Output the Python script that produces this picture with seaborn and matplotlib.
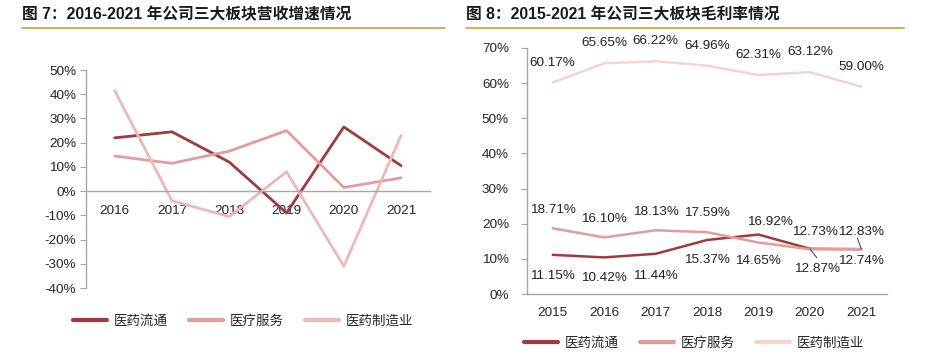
import numpy as np
import pandas as pd
import seaborn as sns
import matplotlib.pyplot as plt
from matplotlib.lines import Line2D
from matplotlib.ticker import PercentFormatter

sns.set_style('white')
plt.rcParams['font.family'] = ['Liberation Sans', 'Noto Sans CJK SC', 'DejaVu Sans']
plt.rcParams['axes.unicode_minus'] = False

# ---- data ----
series = ['医药流通', '医疗服务', '医药制造业']

growth_years = ['2016', '2017', '2018', '2019', '2020', '2021']
growth_liutong = [22.0, 24.5, 12.0, -9.0, 26.5, 10.5]
growth_fuwu = [14.5, 11.5, 16.5, 25.0, 1.5, 5.5]
growth_zhizao = [41.5, -4.0, -10.5, 8.0, -31.0, 23.0]

margin_years = ['2015', '2016', '2017', '2018', '2019', '2020', '2021']
margin_liutong = [11.15, 10.42, 11.44, 15.37, 16.92, 12.87, 12.74]
margin_fuwu = [18.71, 16.10, 18.13, 17.59, 14.65, 12.73, 12.83]
margin_zhizao = [60.17, 65.65, 66.22, 64.96, 62.31, 63.12, 59.00]

# ---- styles ----
colors_left = ['#A03A3C', '#E39C9C', '#EDB8B8']
colors_right = ['#A03A3C', '#E39C9C', '#F4D3D3']
grey = '#A6A6A6'
fs = 9.7

growth = pd.DataFrame({
    'year': growth_years * 3,
    'value': growth_liutong + growth_fuwu + growth_zhizao,
    'series': np.repeat(series, len(growth_years)),
})
margin = pd.DataFrame({
    'year': margin_years * 3,
    'value': margin_liutong + margin_fuwu + margin_zhizao,
    'series': np.repeat(series, len(margin_years)),
})

fig = plt.figure(figsize=(9.29, 3.55), dpi=100)
ax1 = fig.add_axes([0.0926, 0.1887, 0.370, 0.614])
ax2 = fig.add_axes([0.5673, 0.1718, 0.3875, 0.693])

# ---- left chart ----
sns.lineplot(data=growth, x='year', y='value', hue='series', hue_order=series,
             palette=colors_left, linewidth=2.0, sort=False, ax=ax1)
ax1.set_xlim(-0.5, 5.5)
ax1.set_ylim(-40, 50)
ax1.set_yticks(range(-40, 51, 10))
ax1.yaxis.set_major_formatter(PercentFormatter(decimals=0))
ax1.spines['bottom'].set_position(('data', 0))
for s in ['top', 'right']:
    ax1.spines[s].set_visible(False)
for s in ['left', 'bottom']:
    ax1.spines[s].set_color(grey)
    ax1.spines[s].set_linewidth(1.0)
ax1.tick_params(axis='y', left=True, length=4, color=grey, labelsize=fs, pad=3)
ax1.tick_params(axis='x', bottom=False, length=0, labelsize=fs, pad=10)
ax1.set_xlabel('')
ax1.set_ylabel('')
ax1.legend(loc='center', bbox_to_anchor=(0.262, 0.096), bbox_transform=fig.transFigure,
           ncol=3, frameon=False, handlelength=2.5, columnspacing=1.6,
           handletextpad=0.5, prop={'family': ['Noto Sans CJK SC'], 'size': fs})
for line in ax1.get_legend().get_lines():
    line.set_linewidth(3.0)

# ---- right chart ----
sns.lineplot(data=margin, x='year', y='value', hue='series', hue_order=series,
             palette=colors_right, linewidth=1.8, sort=False, ax=ax2)
ax2.set_xlim(-0.5, 6.5)
ax2.set_ylim(0, 70)
ax2.set_yticks(range(0, 71, 10))
ax2.yaxis.set_major_formatter(PercentFormatter(decimals=0))
for s in ['top', 'right']:
    ax2.spines[s].set_visible(False)
for s in ['left', 'bottom']:
    ax2.spines[s].set_color(grey)
    ax2.spines[s].set_linewidth(1.0)
ax2.tick_params(axis='y', left=True, length=4, color=grey, labelsize=fs, pad=9)
ax2.tick_params(axis='x', bottom=False, length=0, labelsize=fs, pad=9)
ax2.set_xlabel('')
ax2.set_ylabel('')
ax2.legend(loc='center', bbox_to_anchor=(0.747, 0.034), bbox_transform=fig.transFigure,
           ncol=3, frameon=False, handlelength=2.5, columnspacing=1.6,
           handletextpad=0.5, prop={'family': ['Noto Sans CJK SC'], 'size': fs})
for line in ax2.get_legend().get_lines():
    line.set_linewidth(3.0)

# data labels: offsets in pixels
off_zhizao = [(0, 20)] * 7
off_fuwu = [(0, 18), (0, 18), (0, 18), (0, 19), (0, -18), (5, 17), (0, 17)]
off_liutong = [(0, -21), (0, -21), (0, -22), (0, -20), (12, 13), (7, -20), (0, -12)]
for vals, offs in [(margin_zhizao, off_zhizao), (margin_fuwu, off_fuwu),
                   (margin_liutong, off_liutong)]:
    for i, (v, (dx, dy)) in enumerate(zip(vals, offs)):
        ax2.annotate(f'{v:.2f}%', (i, v), xytext=(dx, dy), textcoords='offset pixels',
                     ha='center', va='center', fontsize=fs, color='#222222')

# leader lines for crowded labels
ax2.annotate('', (5, margin_liutong[5]), xytext=(7, -9), textcoords='offset pixels',
             arrowprops=dict(arrowstyle='-', color='#555555', lw=0.8, shrinkA=0, shrinkB=0))
ax2.annotate('', (6, margin_fuwu[6]), xytext=(-4, 11), textcoords='offset pixels',
             arrowprops=dict(arrowstyle='-', color='#555555', lw=0.8, shrinkA=0, shrinkB=0))

# ---- titles ----
fig.text(22 / 929, 1 - 15 / 355, '图 7：2016-2021 年公司三大板块营收增速情况',
         fontsize=11.3, fontweight='bold', va='center', ha='left',
         family=['Liberation Sans', 'Noto Sans CJK SC'], color='#1A1A1A')
fig.text(466 / 929, 1 - 15 / 355, '图 8：2015-2021 年公司三大板块毛利率情况',
         fontsize=11.3, fontweight='bold', va='center', ha='left',
         family=['Liberation Sans', 'Noto Sans CJK SC'], color='#1A1A1A')
yl = 1 - 28 / 355
fig.add_artist(Line2D([22 / 929, 445 / 929], [yl, yl], color='#D9A44A', lw=1.3))
fig.add_artist(Line2D([466 / 929, 904 / 929], [yl, yl], color='#D9A44A', lw=1.3))

fig.savefig('out.png', dpi=100)
